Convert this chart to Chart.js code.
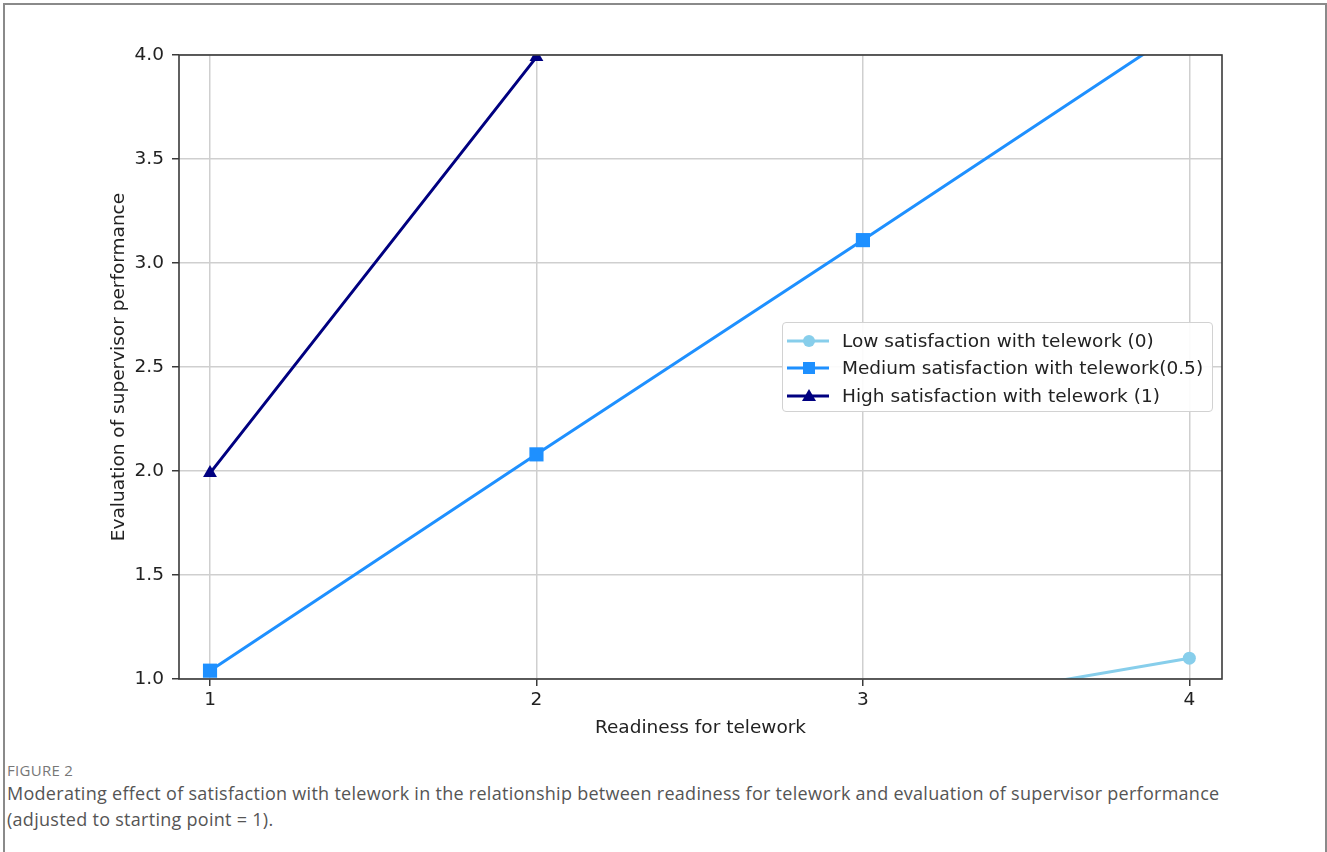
<!DOCTYPE html>
<html>
<head>
<meta charset="utf-8">
<script src="https://cdn.jsdelivr.net/npm/chart.js@4.4.0/dist/chart.umd.min.js"></script>
<style>
  body { margin: 0; background: #fff; overflow: hidden; width: 1327px; height: 852px; position: relative; }
  #frame { position: absolute; left: 3px; top: 3px; width: 1320px; height: 900px; border: 2px solid #8a8a8a; border-bottom: none; }
  #wrap { position: absolute; left: 0; top: 0; width: 1327px; height: 745px; }
  #legend { position: absolute; left: 782px; top: 322px; width: 429px; height: 88px; border: 1px solid #d2d2d2;
            border-radius: 4px; background: rgba(255,255,255,0.9); font-family: "DejaVu Sans", sans-serif; font-size: 18.5px; color: #222; }
  .row { position: absolute; left: 0; height: 24px; width: 100%; }
  .row svg { position: absolute; left: 4px; top: 2px; }
  .row span { position: absolute; left: 59px; top: 0; line-height: 24px; white-space: nowrap; }
  #fig { position: absolute; left: 7px; top: 760px; font-family: "Open Sans", sans-serif; font-size: 15px; letter-spacing: 0.3px; color: #777; }
  #cap { position: absolute; left: 7px; top: 780px; width: 1320px; font-family: "Open Sans", sans-serif; font-size: 18px;
         letter-spacing: 0.28px; line-height: 26px; color: #555; white-space: nowrap; }
</style>
</head>
<body>
<div id="frame"></div>
<div id="wrap"><canvas id="chart"></canvas></div>
<div id="legend"></div>
<div id="fig">FIGURE 2</div>
<div id="cap">Moderating effect of satisfaction with telework in the relationship between readiness for telework and evaluation of supervisor performance<br>(adjusted to starting point = 1).</div>
<script>
// readiness levels on the x axis
const xValues = [1, 2, 3, 4];
const xTicks = [1, 2, 3, 4];
const yTicks = [1.0, 1.5, 2.0, 2.5, 3.0, 3.5, 4.0];

const labels = ['Low satisfaction with telework (0)', 'Medium satisfaction with telework(0.5)', 'High satisfaction with telework (1)'];
const lowValues = [0.30, 0.56, 0.83, 1.10];
const mediumValues = [1.04, 2.08, 3.11, 4.15];
const highValues = [1.99, 3.99, 5.99, 7.99];

const colors = ['#87ceeb', '#1e90ff', '#000080'];
const markers = ['circle', 'rect', 'triangle'];
const radii = [6.5, 10, 8];

const toPoints = vals => vals.map((v, i) => ({ x: xValues[i], y: v }));

const series = [lowValues, mediumValues, highValues];
const datasets = series.map((vals, i) => ({
    label: labels[i],
    data: toPoints(vals),
    borderColor: colors[i],
    backgroundColor: colors[i],
    borderWidth: 3,
    pointStyle: markers[i],
    pointRadius: radii[i],
    pointBorderWidth: 0,
    tension: 0
}));

// matplotlib style frame around the plot area
const framePlugin = {
    id: 'frame',
    afterDatasetsDraw(chart) {
        const a = chart.chartArea;
        const ctx = chart.ctx;
        ctx.save();
        ctx.strokeStyle = '#3a3a3a';
        ctx.lineWidth = 1.6;
        ctx.strokeRect(a.left, a.top, a.right - a.left, a.bottom - a.top);
        ctx.restore();
    }
};

const font = { family: 'DejaVu Sans', size: 18.5 };

const ctx = document.getElementById('chart').getContext('2d');
const chart = new Chart(ctx, {
    type: 'line',
    data: { datasets: datasets },
    options: {
        responsive: true,
        maintainAspectRatio: false,
        animation: false,
        layout: { padding: { top: 55, right: 105, left: 0, bottom: 0 } },
        plugins: {
            legend: { display: false },
            tooltip: { enabled: false }
        },
        scales: {
            x: {
                type: 'linear',
                min: 0.905,
                max: 4.10,
                afterBuildTicks: s => { s.ticks = xTicks.map(v => ({ value: v })); },
                afterFit: s => { s.height = 66; },
                grid: { color: '#cfcfcf', lineWidth: 1.5, tickColor: '#3a3a3a', tickLength: 7 },
                border: { display: false },
                ticks: { font: font, color: '#222', padding: 3, callback: v => String(v) },
                title: { display: true, text: 'Readiness for telework', font: font, color: '#222', padding: { top: 0, bottom: 6 } }
            },
            y: {
                min: 1.0,
                max: 4.0,
                afterBuildTicks: s => { s.ticks = yTicks.map(v => ({ value: v })); },
                afterFit: s => { s.width = 179; },
                grid: { color: '#cfcfcf', lineWidth: 1.5, tickColor: '#3a3a3a', tickLength: 7 },
                border: { display: false },
                ticks: { font: font, color: '#222', padding: 8, callback: v => Number(v).toFixed(1) },
                title: { display: true, text: 'Evaluation of supervisor performance', font: font, color: '#222', padding: { top: 108, bottom: 0 } }
            }
        }
    },
    plugins: [framePlugin]
});

// legend drawn as html text inside the plot
const legend = document.getElementById('legend');
const rowTops = [6, 33, 61];
labels.forEach((lab, i) => {
    const row = document.createElement('div');
    row.className = 'row';
    row.style.top = rowTops[i] + 'px';
    let mark = '';
    if (markers[i] === 'circle') mark = '<circle cx="22" cy="10" r="6" fill="' + colors[i] + '"/>';
    if (markers[i] === 'rect') mark = '<rect x="16" y="4" width="12" height="12" fill="' + colors[i] + '"/>';
    if (markers[i] === 'triangle') mark = '<polygon points="22,3 29,15 15,15" fill="' + colors[i] + '"/>';
    row.innerHTML = '<svg width="44" height="20"><line x1="0" y1="10" x2="42" y2="10" stroke="' + colors[i] + '" stroke-width="3"/>' + mark + '</svg><span>' + lab + '</span>';
    legend.appendChild(row);
});
</script>
</body>
</html>
